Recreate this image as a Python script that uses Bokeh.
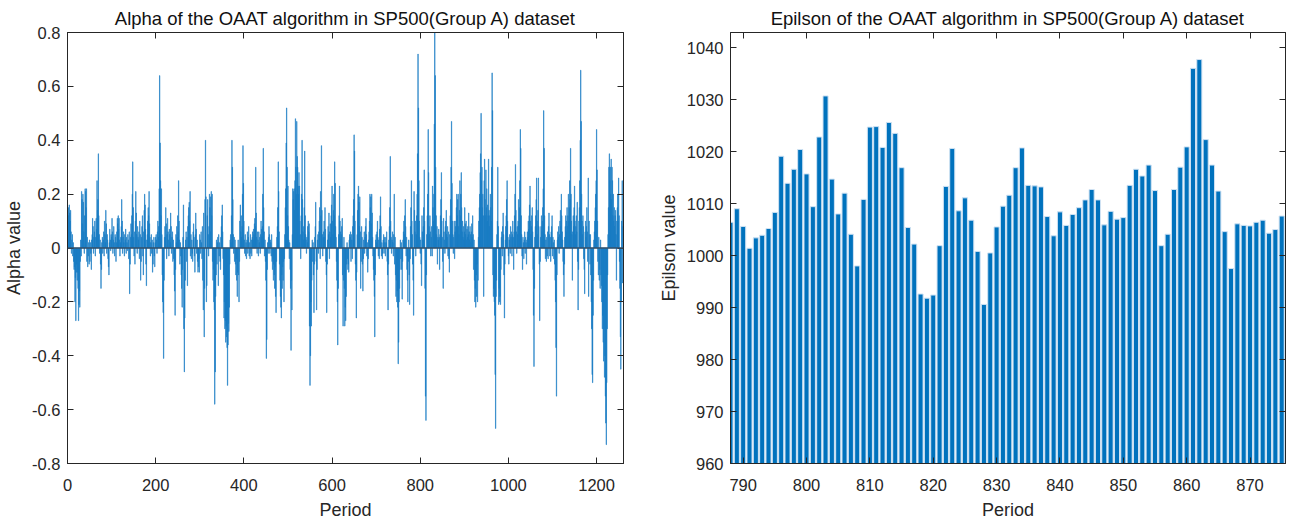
from bokeh.plotting import figure
from bokeh.layouts import row
from bokeh.models import LinearAxis, FixedTicker, CustomJSTickFormatter, Span, Range1d
from bokeh.embed import file_html
from bokeh.resources import INLINE

# ---------------- data ----------------
alpha_values = [
    0.08, 0.15, 0.12, 0.16, 0.13, 0.1, 0.14, 0.06, -0.02, 0.03, 0.05, -0.03, 0.02, -0.05, -0.08, -0.07, -0.2, -0.11, -0.27, -0.09,
    -0.06, -0.12, -0.09, -0.15, -0.27, -0.21, -0.16, -0.22, -0.05, 0.03, -0.03, 0.21, 0.18, 0.09, 0.2, 0.17, 0.06, -0.02, 0.12, 0.22,
    0.21, 0.15, 0.22, -0.05, 0.04, -0.07, -0.03, 0.02, -0.06, 0.03, -0.05, 0.02, -0.02, -0.08, 0.03, 0.05, 0.11, 0.08, -0.02, 0.04,
    0.06, 0.1, -0.03, 0.04, 0.11, 0.07, 0.25, 0.14, 0.18, 0.35, 0.12, 0.05, -0.02, 0.03, -0.06, -0.15, -0.08, 0.02, 0.04, -0.02,
    0.03, 0.06, -0.03, 0.1, 0.05, 0.02, 0.14, 0.09, -0.02, 0.05, 0.03, -0.04, -0.07, -0.1, 0.02, 0.07, 0.03, -0.01, 0.05, 0.04,
    0.11, 0.06, -0.02, 0.03, 0.08, 0.02, -0.03, 0.05, 0.04, -0.05, 0.02, 0.06, 0.11, 0.09, 0.12, 0.07, 0.11, 0.03, -0.03, 0.02,
    0.04, 0.08, 0.18, 0.1, -0.02, 0.04, 0.06, 0.02, -0.03, 0.05, 0.03, 0.07, -0.02, 0.04, 0.02, -0.01, 0.05, 0.03, -0.04, 0.06,
    -0.17, -0.06, 0.04, 0.09, 0.05, 0.12, 0.2, 0.32, 0.15, 0.04, -0.03, 0.06, -0.06, 0.1, 0.21, 0.13, 0.05, -0.02, 0.08, 0.04,
    0.03, 0.06, -0.04, 0.1, 0.05, -0.12, -0.05, 0.04, 0.08, 0.12, -0.03, -0.1, 0.06, 0.14, 0.2, 0.16, 0.07, -0.06, -0.14, 0.03,
    0.05, 0.1, 0.15, 0.12, 0.21, 0.09, 0.04, -0.03, 0.02, 0.05, -0.02, 0.03, -0.09, -0.06, 0.02, 0.04, -0.03, -0.07, 0.02, 0.04,
    0.05, 0.03, -0.02, 0.06, 0.1, 0.04, 0.08, 0.22, 0.64, 0.39, 0.25, 0.12, 0.22, 0.05, -0.1, -0.2, -0.24, -0.41, -0.12, 0.04,
    0.08, 0.04, 0.15, 0.09, -0.04, 0.05, 0.11, 0.06, 0.03, -0.03, 0.07, 0.05, 0.02, 0.13, 0.08, -0.02, 0.04, 0.06, -0.05, 0.03,
    -0.04, -0.1, -0.16, -0.25, -0.08, 0.05, 0.02, 0.08, 0.04, 0.12, 0.06, 0.25, 0.1, 0.03, -0.06, 0.02, -0.03, -0.1, -0.15, -0.22,
    -0.08, 0.04, 0.16, -0.3, -0.46, -0.26, -0.12, 0.03, 0.06, -0.05, 0.04, -0.14, 0.08, 0.12, 0.15, 0.17, 0.1, 0.21, -0.03, 0.05,
    -0.04, 0.03, -0.02, -0.05, 0.06, 0.09, 0.04, -0.03, -0.09, 0.05, 0.13, 0.07, -0.02, 0.03, -0.05, -0.09, -0.07, -0.04, -0.09, 0.05,
    0.03, -0.02, 0.06, 0.02, -0.04, 0.08, -0.12, -0.23, 0.13, -0.33, -0.15, 0.18, 0.4, 0.19, -0.2, -0.14, 0.12, 0.18, 0.05, -0.03,
    0.08, 0.2, 0.15, 0.06, 0.19, 0.21, 0.12, 0.2, -0.05, -0.12, -0.08, -0.2, -0.23, -0.58, -0.46, -0.18, -0.1, 0.03, -0.06, 0.02,
    0.04, -0.14, 0.05, -0.03, 0.02, -0.05, -0.08, 0.04, 0.08, 0.12, 0.16, 0.06, -0.04, -0.1, -0.26, -0.2, -0.3, -0.27, -0.35, -0.29,
    -0.33, -0.37, -0.51, -0.36, -0.28, -0.31, -0.22, -0.06, 0.03, 0.05, 0.02, 0.12, 0.4, 0.3, 0.18, 0.05, -0.02, 0.04, -0.05, 0.03,
    -0.06, -0.1, -0.04, -0.12, -0.18, -0.09, 0.03, -0.1, -0.2, -0.05, 0.1, 0.16, 0.06, 0.12, 0.04, 0.08, 0.2, 0.38, 0.24, 0.1,
    0.03, -0.02, 0.05, -0.03, 0.02, -0.04, 0.03, 0.06, -0.02, 0.04, 0.08, -0.03, 0.02, -0.04, 0.05, -0.02, 0.03, -0.03, 0.04, 0.06,
    0.03, 0.07, 0.05, 0.09, 0.11, 0.08, 0.3, 0.13, 0.04, -0.02, 0.06, 0.03, -0.03, 0.06, 0.02, 0.04, -0.02, 0.05, 0.1, 0.07,
    0.04, 0.08, 0.2, 0.37, 0.15, 0.06, -0.03, 0.03, -0.05, -0.12, -0.41, -0.34, -0.08, 0.02, -0.02, 0.04, 0.08, 0.05, -0.02, 0.03,
    0.02, -0.03, 0.05, -0.05, -0.08, -0.04, -0.12, -0.06, -0.1, -0.15, -0.07, -0.18, -0.24, -0.05, 0.04, 0.08, 0.15, 0.32, 0.21, 0.06,
    -0.06, -0.12, -0.18, -0.22, -0.26, -0.1, -0.15, -0.07, -0.12, -0.05, -0.2, -0.04, 0.05, 0.15, 0.22, 0.39, 0.52, 0.3, 0.12, 0.23,
    0.08, 0.03, -0.04, 0.02, -0.08, -0.15, -0.38, -0.12, -0.23, 0.05, 0.22, 0.18, 0.21, 0.22, 0.14, 0.25, 0.48, 0.3, 0.2, 0.47,
    0.34, 0.3, 0.23, 0.2, 0.28, 0.23, 0.1, 0.05, -0.04, 0.12, 0.2, 0.4, 0.18, 0.06, 0.03, 0.08, 0.15, 0.36, 0.12, 0.05,
    0.03, -0.02, 0.04, 0.02, 0.08, 0.1, 0.06, 0.09, -0.29, -0.51, -0.4, -0.2, -0.29, -0.12, 0.03, -0.05, 0.02, -0.1, -0.24, -0.06,
    0.04, 0.08, 0.17, -0.05, -0.23, -0.08, 0.03, 0.05, -0.02, 0.06, 0.1, 0.15, -0.04, 0.21, 0.12, 0.38, 0.14, 0.05, -0.03, 0.04,
    0.06, 0.1, 0.04, 0.15, 0.07, -0.05, -0.1, -0.24, -0.06, 0.03, 0.08, 0.05, 0.13, -0.04, 0.06, 0.09, 0.04, 0.12, 0.16, 0.23,
    0.1, 0.05, 0.14, 0.2, 0.12, 0.32, 0.24, 0.08, 0.04, -0.05, -0.12, -0.2, -0.36, -0.15, 0.05, 0.12, 0.23, 0.1, 0.06, 0.03,
    0.05, 0.08, 0.11, -0.1, -0.29, -0.12, 0.04, -0.15, -0.29, -0.22, -0.27, -0.18, -0.06, 0.02, -0.04, -0.08, -0.06, -0.09, 0.03, 0.05,
    0.04, 0.06, -0.05, 0.05, 0.03, -0.04, 0.08, 0.12, 0.18, 0.42, 0.36, 0.1, -0.06, -0.12, -0.26, -0.09, 0.05, 0.14, 0.2, 0.23,
    0.17, 0.08, 0.19, 0.06, -0.15, -0.05, 0.08, 0.04, -0.06, -0.16, -0.04, 0.03, 0.06, -0.02, 0.04, 0.08, 0.11, 0.05, -0.03, 0.02,
    -0.09, -0.04, 0.03, 0.06, 0.1, 0.2, 0.15, 0.19, 0.09, 0.2, 0.13, 0.04, -0.03, -0.08, -0.12, -0.18, -0.33, -0.1, 0.03, 0.05,
    0.02, 0.06, 0.1, 0.04, -0.03, 0.03, -0.04, 0.07, 0.12, 0.19, 0.08, -0.03, 0.02, -0.04, -0.02, 0.03, 0.05, -0.02, 0.04, 0.02,
    -0.03, 0.04, 0.02, 0.06, -0.05, -0.1, -0.23, -0.06, 0.03, 0.08, 0.15, 0.34, 0.1, 0.04, -0.02, 0.03, 0.06, 0.02, -0.03, 0.05,
    0.2, -0.06, 0.04, -0.1, -0.18, -0.12, -0.2, -0.16, -0.22, -0.43, -0.35, -0.2, -0.15, -0.08, 0.03, -0.04, 0.02, -0.08, -0.19, -0.05,
    0.03, 0.06, 0.1, 0.05, 0.12, 0.18, 0.08, -0.03, 0.04, -0.08, -0.12, -0.2, -0.05, 0.03, -0.1, -0.21, -0.04, 0.08, 0.15, 0.25,
    0.1, 0.05, -0.06, -0.12, -0.25, 0.21, 0.14, 0.06, 0.1, -0.03, 0.05, 0.12, 0.2, 0.35, 0.72, 0.52, 0.25, 0.1, 0.04, -0.02,
    0.03, -0.06, -0.14, 0.12, 0.06, 0.03, 0.08, 0.15, 0.29, 0.1, -0.15, -0.55, -0.64, -0.1, 0.05, 0.12, 0.2, 0.44, 0.28, 0.08,
    0.05, 0.12, 0.06, -0.03, 0.04, 0.08, -0.03, 0.23, 0.15, 0.1, 0.2, 0.46, 0.82, 0.64, 0.3, 0.12, 0.05, 0.08, -0.06, 0.04,
    0.03, 0.07, 0.04, -0.08, 0.05, 0.12, 0.18, 0.28, 0.1, 0.04, -0.05, -0.15, 0.11, 0.06, 0.03, -0.02, 0.08, 0.1, 0.14, 0.05,
    0.04, 0.08, -0.03, 0.06, -0.04, -0.09, 0.05, 0.12, 0.18, 0.3, 0.47, 0.24, 0.1, 0.05, -0.02, 0.04, 0.1, -0.04, 0.06, 0.08,
    0.1, 0.15, 0.2, 0.12, 0.18, 0.2, 0.08, 0.05, 0.14, 0.25, 0.12, 0.2, 0.28, 0.15, 0.06, 0.1, 0.04, 0.08, 0.03, 0.06,
    0.15, 0.09, 0.05, 0.1, 0.03, 0.07, 0.04, 0.08, 0.05, 0.13, 0.06, 0.03, 0.08, 0.05, 0.02, 0.06, 0.09, 0.04, 0.12, 0.05,
    -0.08, 0.03, -0.12, -0.2, -0.15, -0.22, -0.1, -0.18, -0.06, -0.2, -0.12, 0.04, 0.1, 0.15, 0.2, 0.28, 0.35, 0.5, 0.25, 0.3,
    0.15, 0.2, 0.12, -0.18, 0.25, 0.33, 0.18, 0.12, 0.29, 0.15, 0.22, 0.1, 0.16, 0.12, 0.33, 0.14, 0.08, 0.12, 0.2, 0.15,
    0.1, 0.3, 0.65, 0.51, -0.1, -0.18, -0.15, -0.2, -0.25, -0.47, -0.67, -0.18, -0.12, 0.05, 0.1, 0.3, 0.08, -0.21, -0.15, -0.2,
    -0.18, -0.21, -0.08, 0.04, 0.06, -0.03, 0.08, 0.13, 0.05, -0.1, -0.26, -0.06, 0.03, 0.08, 0.12, 0.18, 0.25, 0.1, 0.04, -0.03,
    -0.06, 0.03, 0.05, -0.02, 0.08, 0.04, 0.06, -0.03, 0.05, 0.1, 0.04, -0.08, 0.06, 0.12, 0.2, 0.31, 0.14, 0.06, -0.02, 0.08,
    0.05, 0.1, 0.18, 0.08, 0.15, 0.25, 0.44, 0.37, 0.12, 0.05, -0.03, -0.08, 0.04, 0.02, -0.04, 0.03, 0.06, -0.02, 0.04, 0.02,
    -0.06, 0.03, 0.06, 0.04, 0.1, 0.07, 0.12, 0.16, 0.23, 0.1, 0.05, 0.08, 0.12, 0.15, 0.06, -0.08, -0.25, -0.44, -0.15, 0.04,
    0.08, 0.12, 0.18, 0.26, 0.1, 0.05, 0.14, 0.26, 0.08, -0.06, -0.27, -0.05, 0.04, 0.08, 0.12, 0.06, 0.1, 0.15, 0.22, 0.51,
    0.37, 0.12, 0.05, -0.04, 0.03, -0.05, 0.04, -0.03, 0.06, -0.04, 0.08, 0.13, 0.05, -0.03, 0.04, -0.05, 0.06, 0.08, 0.12, -0.03,
    0.04, 0.02, -0.04, 0.03, -0.06, -0.12, -0.2, -0.37, -0.55, -0.1, 0.03, 0.06, 0.04, 0.08, -0.02, 0.05, 0.1, 0.14, 0.08, 0.2,
    0.12, 0.06, 0.03, -0.05, -0.1, -0.18, -0.06, 0.04, 0.08, 0.12, 0.06, 0.1, 0.15, 0.08, 0.12, 0.2, 0.1, 0.15, 0.25, 0.18,
    0.37, 0.2, 0.1, 0.05, -0.12, 0.06, 0.12, 0.08, 0.15, 0.23, 0.1, 0.05, 0.08, 0.12, 0.06, 0.17, -0.05, -0.23, -0.08, 0.1,
    0.15, 0.25, 0.4, 0.66, 0.47, 0.2, 0.1, 0.05, 0.12, 0.08, -0.04, -0.08, -0.17, 0.06, 0.1, 0.04, 0.08, 0.15, 0.06, -0.05,
    0.26, -0.18, 0.1, 0.05, -0.06, 0.05, -0.1, -0.2, -0.3, -0.47, -0.5, -0.25, -0.12, 0.03, 0.06, 0.1, 0.15, 0.2, 0.25, 0.44,
    0.29, 0.1, -0.05, -0.1, 0.04, -0.12, -0.08, -0.15, 0.03, -0.1, -0.14, -0.2, -0.3, -0.25, -0.35, -0.42, -0.3, -0.48, -0.4, -0.55,
    -0.65, -0.73, -0.5, -0.3, -0.1, 0.05, 0.15, 0.3, 0.35, 0.25, 0.3, 0.2, 0.33, 0.18, 0.3, 0.25, 0.12, 0.2, 0.1, 0.15,
    0.08, 0.12, 0.14, 0.05, -0.12, 0.1, 0.15, 0.2, 0.1, 0.26, 0.12, -0.05, -0.15, -0.33, -0.45, -0.2, 0.1, 0.25, -0.13, 0.08,
]
alpha_periods = list(range(1, len(alpha_values) + 1))

eps_periods = list(range(788, 876))
eps_values = [
    1006.4, 1009.0, 1005.6, 1001.4, 1003.4, 1003.9, 1005.2, 1008.3, 1019.1, 1013.9,
    1016.6, 1020.4, 1015.7, 1009.4, 1022.8, 1030.7, 1014.7, 1008.0, 1012.0, 1004.1,
    998.0, 1010.8, 1024.7, 1024.8, 1020.8, 1025.6, 1023.5, 1016.9, 1005.4, 1002.2,
    992.6, 991.8, 992.4, 1001.9, 1013.3, 1020.6, 1008.6, 1011.1, 1006.8, 1000.8,
    990.6, 1000.5, 1005.5, 1009.5, 1011.6, 1016.9, 1020.7, 1013.5, 1013.4, 1013.2,
    1007.5, 1003.8, 1008.4, 1005.8, 1007.9, 1009.2, 1010.7, 1012.7, 1010.7, 1005.9,
    1008.5, 1007.0, 1007.3, 1013.5, 1016.6, 1015.3, 1017.4, 1012.5, 1001.9, 1004.1,
    1012.7, 1017.0, 1020.9, 1036.0, 1037.7, 1022.3, 1017.4, 1012.4, 1004.6, 997.5,
    1006.1, 1005.8, 1005.7, 1006.4, 1006.8, 1004.3, 1005.0, 1007.6,
]

alpha_xticks = [0, 200, 400, 600, 800, 1000, 1200]
alpha_yticks = [-0.8, -0.6, -0.4, -0.2, 0, 0.2, 0.4, 0.6, 0.8]
eps_xticks = [790, 800, 810, 820, 830, 840, 850, 860, 870]
eps_yticks = [960, 970, 980, 990, 1000, 1010, 1020, 1030, 1040]

title_left = "Alpha of the OAAT algorithm in SP500(Group A) dataset"
title_right = "Epilson of the OAAT algorithm in SP500(Group A) dataset"

# ---------------- styling helpers ----------------
FONT = "Liberation Sans"
AX_COLOR = "#262626"
TICK_SIZE = "16.5px"
LABEL_SIZE = "18px"


def style_axis(ax, ticks, hidden=False, is_x=False):
    ax.ticker = FixedTicker(ticks=ticks)
    ax.major_tick_in = 6
    ax.major_tick_out = 0
    ax.minor_tick_in = 0
    ax.minor_tick_out = 0
    ax.axis_line_color = AX_COLOR
    ax.axis_line_width = 1
    ax.major_tick_line_color = AX_COLOR
    ax.major_label_text_font = FONT
    ax.major_label_text_color = AX_COLOR
    ax.axis_label_text_font = FONT
    ax.axis_label_text_font_style = "normal"
    ax.axis_label_text_font_size = LABEL_SIZE
    ax.axis_label_text_color = AX_COLOR
    if hidden:
        ax.formatter = CustomJSTickFormatter(code="return '';")
        ax.major_label_text_font_size = "0px"
        ax.major_label_standoff = 0
    else:
        ax.major_label_text_font_size = TICK_SIZE
        if is_x:
            ax.major_label_standoff = 15
            ax.axis_label_standoff = 6
        else:
            ax.major_label_standoff = 7
            ax.axis_label_standoff = 5


def make_fig(title, x_range, y_range, xticks, yticks, xlabel, ylabel,
             width, border_left, border_right, yformatter=None):
    p = figure(width=width, height=522, output_backend="svg", toolbar_location=None,
               x_range=Range1d(*x_range), y_range=Range1d(*y_range),
               min_border_left=border_left, min_border_right=border_right,
               min_border_top=32, min_border_bottom=55)
    p.title.text = title
    p.title.align = "center"
    p.title.text_font = FONT
    p.title.text_font_size = "18.5px"
    p.title.text_font_style = "normal"
    p.title.text_color = "#111111"
    p.title.standoff = 8
    p.xgrid.visible = False
    p.ygrid.visible = False
    p.outline_line_color = AX_COLOR
    p.background_fill_color = "white"
    p.border_fill_color = "white"

    style_axis(p.xaxis[0], xticks, is_x=True)
    style_axis(p.yaxis[0], yticks)
    p.xaxis[0].axis_label = xlabel
    p.yaxis[0].axis_label = ylabel
    if yformatter is not None:
        p.yaxis[0].formatter = yformatter

    top = LinearAxis()
    style_axis(top, xticks, hidden=True)
    p.add_layout(top, "above")
    right = LinearAxis()
    style_axis(right, yticks, hidden=True)
    p.add_layout(right, "right")
    return p


# ---------------- left: alpha ----------------
p1 = make_fig(title_left, (0, 1261), (-0.8, 0.8), alpha_xticks, alpha_yticks,
              "Period", "Alpha value", 650, 67, 27,
              yformatter=CustomJSTickFormatter(code="return String(Math.round(tick*10)/10);"))
p1.vbar(x=alpha_periods, top=alpha_values, bottom=0, width=0.8,
        fill_color="#1a7cc4", line_color="#1a7cc4", line_width=0.6)
p1.add_layout(Span(location=0, dimension="width", line_color="#34506a", line_width=1.5))

# ---------------- right: epsilon ----------------
p2 = make_fig(title_right, (788, 875.6), (960, 1042.9), eps_xticks, eps_yticks,
              "Period", "Epilson value", 640, 80, 5)
p2.vbar(x=eps_periods, top=eps_values, bottom=0, width=0.8,
        fill_color="#0072BD", line_color="#cfe2f3", line_width=1)

layout = row(p1, p2)
open("out.html", "w").write(file_html(layout, INLINE))
